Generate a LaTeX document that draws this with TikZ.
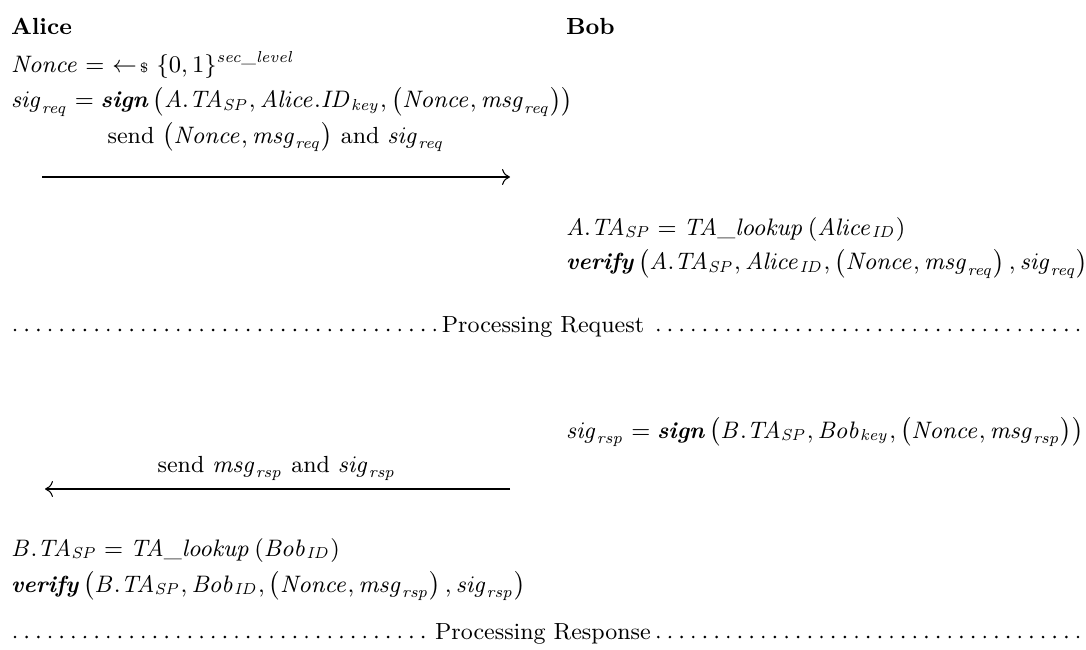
\documentclass[tikz,border=0pt]{standalone}
\usepackage{amsmath}
\usetikzlibrary{arrows.meta}
\newcommand{\mv}[1]{\mathit{#1}}
\newcommand{\alg}[1]{\textbf{\textit{#1}}}
\tikzset{
  txt/.style={anchor=base west, inner sep=0pt, outer sep=0pt},
  lbl/.style={anchor=base, inner sep=0pt, outer sep=0pt},
  sep/.style={anchor=base, inner sep=0pt, outer sep=2.5pt},
  msg/.style={line width=0.4pt, -{Computer Modern Rightarrow[length=3pt,width=6pt]}},
  dots/.style={line width=1.1pt, line cap=round, dash pattern=on 0pt off 4.4pt},
}
\begin{document}
\begin{tikzpicture}[x=0.3774pt,y=-0.3774pt,font=\fontsize{8.8pt}{10.5pt}\selectfont]
\useasboundingbox (0,0) rectangle (1086,650);
% headers
\node[txt] (alice) at (11,35) {\textbf{Alice}};
\node[txt] (bob) at (566,35) {\textbf{Bob}};
% Alice computations
\node[txt] (nonce) at (11,73) {$\mv{Nonce} = \ \leftarrow\!{\scriptscriptstyle\$}\ \{0,1\}^{\mv{sec\_level}}$};
\node[txt] (sigreq) at (11,108) {$\mv{sig}_{\mv{req}} = \alg{sign}\left(\mv{A.TA}_{\mv{SP}}, \mv{Alice.ID}_{\mv{key}}, \left(\mv{Nonce}, \mv{msg}_{\mv{req}}\right)\right)$};
% request message
\coordinate (r1) at (42,177);
\coordinate (r2) at (510,177);
\draw[msg] (r1) -- (r2);
\node[lbl] (sendreq) at (276,143) {send $\left(\mv{Nonce}, \mv{msg}_{\mv{req}}\right)$ and $\mv{sig}_{\mv{req}}$};
% Bob verification
\node[txt] (lookupA) at (566,235) {$\mv{A.TA}_{\mv{SP}} = \mv{TA\_lookup}\left(\mv{Alice}_{\mv{ID}}\right)$};
\node[txt] (verifyA) at (566,270) {$\alg{verify}\left(\mv{A.TA}_{\mv{SP}}, \mv{Alice}_{\mv{ID}}, \left(\mv{Nonce}, \mv{msg}_{\mv{req}}\right), \mv{sig}_{\mv{req}}\right)$};
% separator 1
\node[sep] (proc1) at (543,332) {Processing Request};
\coordinate (d1l) at (15,330);
\coordinate (d1r) at (1078,330);
\draw[dots] (d1l) -- (proc1.west |- d1l);
\draw[dots] (d1r) -- (proc1.east |- d1r);
% Bob response
\node[txt] (sigrsp) at (566,438) {$\mv{sig}_{\mv{rsp}} = \alg{sign}\left(\mv{B.TA}_{\mv{SP}}, \mv{Bob}_{\mv{key}}, \left(\mv{Nonce}, \mv{msg}_{\mv{rsp}}\right)\right)$};
\coordinate (s1) at (510,489);
\coordinate (s2) at (45,489);
\draw[msg] (s1) -- (s2);
\node[lbl] (sendrsp) at (277,472) {send $\mv{msg}_{\mv{rsp}}$ and $\mv{sig}_{\mv{rsp}}$};
% Alice verification
\node[txt] (lookupB) at (11,556) {$\mv{B.TA}_{\mv{SP}} = \mv{TA\_lookup}\left(\mv{Bob}_{\mv{ID}}\right)$};
\node[txt] (verifyB) at (11,592) {$\alg{verify}\left(\mv{B.TA}_{\mv{SP}}, \mv{Bob}_{\mv{ID}}, \left(\mv{Nonce}, \mv{msg}_{\mv{rsp}}\right), \mv{sig}_{\mv{rsp}}\right)$};
% separator 2
\node[sep] (proc2) at (543,639) {Processing Response};
\coordinate (d2l) at (15,637);
\coordinate (d2r) at (1078,637);
\draw[dots] (d2l) -- (proc2.west |- d2l);
\draw[dots] (d2r) -- (proc2.east |- d2r);
\end{tikzpicture}
\end{document}
